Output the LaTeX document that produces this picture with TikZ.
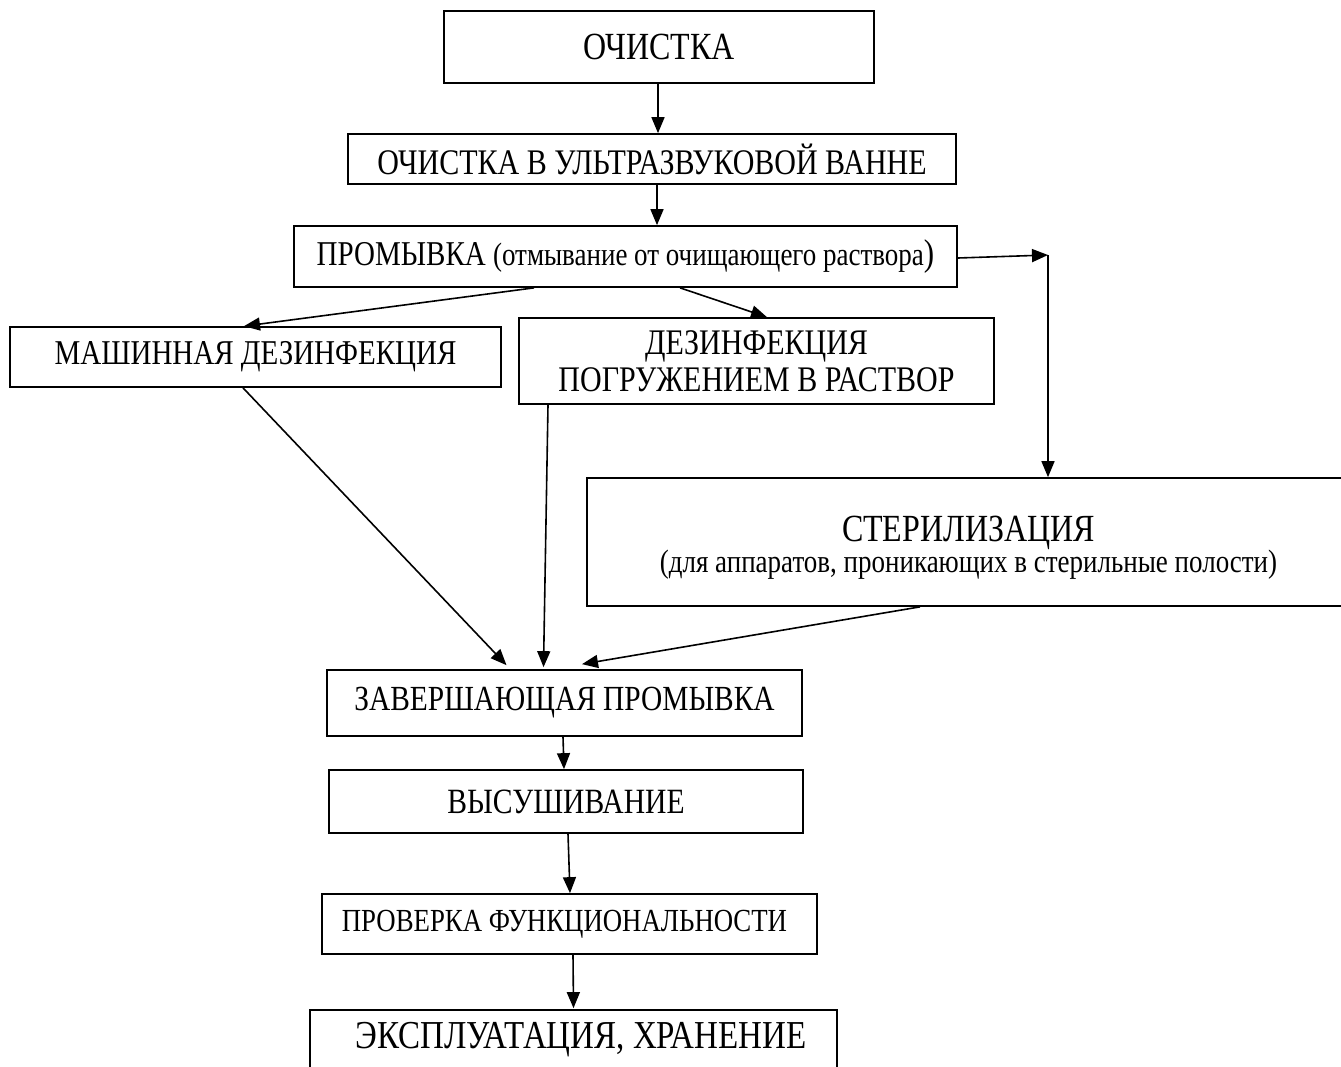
\documentclass[tikz,border=0pt]{standalone}
\usepackage{fontspec}
\usepackage{graphicx}
\setmainfont{Liberation Serif}
\usetikzlibrary{arrows.meta}
\newcommand{\vst}[1]{\scalebox{1}[1.2]{#1}}
\newcommand{\fsz}[1]{\fontsize{#1}{#1}\selectfont}
\begin{document}
\begin{tikzpicture}[x=1pt,y=1pt,
  box/.style={draw, line width=1.7pt, rectangle, inner sep=0pt, align=center, fill=white},
  conn/.style={line width=1.6pt, -{Triangle[length=16pt,width=13pt]}}]
\useasboundingbox (0,0) rectangle (1341,-1066);
\clip (0,0) rectangle (1341,-1066);
\fill[white] (0,0) rectangle (1341,-1066);

\node[box,minimum width=430,minimum height=72] (och) at (659,-47) {\fsz{32}\vst{ОЧИСТКА}};
\node[box,minimum width=608,minimum height=50] (ultra) at (652,-159) {\fsz{30}\vst{ОЧИСТКА В УЛЬТРАЗВУКОВОЙ ВАННЕ}};
\node[box,minimum width=663,minimum height=61] (prom) at (625.5,-256.5) {\vst{\fsz{29}ПРОМЫВКА {\fsz{27}(отмывание от очищающего раствора}{\fsz{31})}}};
\node[box,minimum width=491,minimum height=60] (mash) at (255.5,-357) {\fsz{29}\vst{МАШИННАЯ ДЕЗИНФЕКЦИЯ}};
\node[box,minimum width=475,minimum height=86] (dez) at (756.5,-361) {\fsz{30}\vst{ДЕЗИНФЕКЦИЯ}\\[5pt]\fsz{30}\vst{ПОГРУЖЕНИЕМ В РАСТВОР}};
\node[box,minimum width=763,minimum height=128] (ster) at (968.5,-542) {\raisebox{-6pt}[\height][\depth]{\begin{tabular}{@{}c@{}}\fsz{32}\vst{СТЕРИЛИЗАЦИЯ}\\[5pt]\fsz{27}\vst{(для аппаратов, проникающих в стерильные полости)}\end{tabular}}};
\node[box,minimum width=475,minimum height=66] (zav) at (564.5,-703) {\fsz{29.4}\vst{ЗАВЕРШАЮЩАЯ ПРОМЫВКА}};
\node[box,minimum width=474,minimum height=63] (vys) at (566,-801.5) {\fsz{29.6}\vst{ВЫСУШИВАНИЕ}};
\node[box,minimum width=495,minimum height=60] (prov) at (569.5,-924) {\fsz{26.8}\vst{ПРОВЕРКА ФУНКЦИОНАЛЬНОСТИ}\hspace*{10pt}};
\node[box,minimum width=527,minimum height=60] (eks) at (573.5,-1040) {\hspace*{15pt}\fsz{33}\vst{ЭКСПЛУАТАЦИЯ, ХРАНЕНИЕ}};

\coordinate (turn) at (1048,-255);

\draw[conn] ([xshift=-1pt]och.south) -- ([xshift=-1pt]och.south |- ultra.north);
\draw[conn] ([xshift=5pt]ultra.south) -- ([xshift=5pt]ultra.south |- prom.north);
\draw[conn] ([xshift=-91.5pt]prom.south) -- ([xshift=-11.5pt]mash.north);
\draw[conn] ([xshift=54.5pt]prom.south) -- ([xshift=10.5pt]dez.north);
\draw[conn] ([yshift=-1.5pt]prom.east) -- (turn);
\draw[conn] (turn) -- (turn |- ster.north);
\draw[conn] ([xshift=-12.5pt]mash.south) -- ([xshift=-58pt,yshift=4pt]zav.north);
\draw[conn] ([xshift=-208.5pt]dez.south) -- ([xshift=-21pt,yshift=2pt]zav.north);
\draw[conn] ([xshift=-48.5pt]ster.south) -- ([xshift=17.5pt,yshift=5pt]zav.north);
\draw[conn] ([xshift=-1.5pt]zav.south) -- ([xshift=-2pt]vys.north);
\draw[conn] ([xshift=2pt]vys.south) -- ([xshift=0.5pt]prov.north);
\draw[conn] ([xshift=3.5pt]prov.south) -- ([xshift=0pt,yshift=1pt]eks.north);
\end{tikzpicture}
\end{document}
